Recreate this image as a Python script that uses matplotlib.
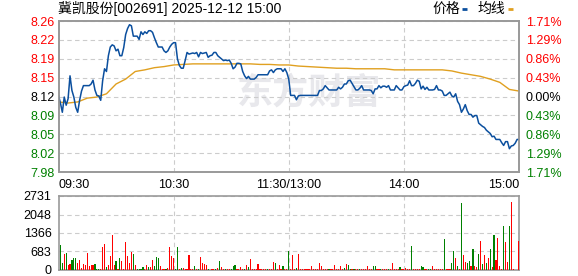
import matplotlib
matplotlib.use('Agg')
import matplotlib.pyplot as plt
import matplotlib.transforms as mtrans
from matplotlib.lines import Line2D
import numpy as np

plt.rcParams['font.family'] = ['Liberation Sans', 'Noto Sans CJK SC', 'DejaVu Sans']

# ---------------- data ----------------
title = '冀凯股份[002691] 2025-12-12 15:00'
legend_labels = ['价格', '均线']
watermark = '东方财富'
prev_close = 8.12
pct_range = 0.0171
price_tick_labels = ['7.98', '8.02', '8.05', '8.09', '8.12', '8.15', '8.19', '8.22', '8.26']
pct_tick_labels = ['1.71%', '1.29%', '0.86%', '0.43%', '0.00%', '0.43%', '0.86%', '1.29%', '1.71%']
vol_ticks = [0, 683, 1366, 2048, 2731]
time_pos = [0, 60, 120, 180, 240]
time_labels = ['09:30', '10:30', '11:30/13:00', '14:00', '15:00']

# one value per trading minute, 09:30 .. 15:00 (241 points)
price = [
    8.122, 8.108, 8.091, 8.119, 8.104, 8.116, 8.158, 8.131, 8.119, 8.100,
    8.091, 8.113, 8.130, 8.140, 8.140, 8.140, 8.140, 8.143, 8.150, 8.132,
    8.122, 8.121, 8.113, 8.149, 8.171, 8.166, 8.195, 8.211, 8.215, 8.213,
    8.204, 8.207, 8.195, 8.195, 8.210, 8.234, 8.245, 8.252, 8.250, 8.231,
    8.231, 8.231, 8.225, 8.239, 8.234, 8.239, 8.236, 8.241, 8.241, 8.238,
    8.228, 8.219, 8.211, 8.211, 8.211, 8.204, 8.201, 8.204, 8.211, 8.216,
    8.219, 8.219, 8.189, 8.177, 8.172, 8.172, 8.186, 8.201, 8.198, 8.199,
    8.200, 8.199, 8.201, 8.193, 8.201, 8.199, 8.200, 8.201, 8.192, 8.195,
    8.196, 8.201, 8.201, 8.195, 8.192, 8.189, 8.186, 8.187, 8.186, 8.187,
    8.181, 8.171, 8.174, 8.181, 8.181, 8.180, 8.166, 8.158, 8.153, 8.157,
    8.152, 8.152, 8.152, 8.155, 8.160, 8.160, 8.160, 8.160, 8.160, 8.160,
    8.167, 8.169, 8.164, 8.169, 8.171, 8.171, 8.171, 8.166, 8.171, 8.164,
    8.152, 8.122, 8.122, 8.122, 8.114, 8.121, 8.122, 8.122, 8.122, 8.122,
    8.122, 8.122, 8.122, 8.122, 8.122, 8.122, 8.131, 8.131, 8.134, 8.140,
    8.136, 8.132, 8.132, 8.132, 8.132, 8.132, 8.137, 8.134, 8.137, 8.143,
    8.143, 8.149, 8.150, 8.144, 8.138, 8.132, 8.132, 8.135, 8.140, 8.132,
    8.132, 8.132, 8.132, 8.131, 8.125, 8.134, 8.134, 8.140, 8.136, 8.139,
    8.139, 8.137, 8.140, 8.132, 8.132, 8.132, 8.140, 8.136, 8.132, 8.132,
    8.138, 8.140, 8.141, 8.149, 8.140, 8.140, 8.144, 8.150, 8.148, 8.134,
    8.139, 8.133, 8.137, 8.132, 8.132, 8.132, 8.133, 8.140, 8.132, 8.132,
    8.130, 8.122, 8.122, 8.125, 8.128, 8.121, 8.119, 8.125, 8.111, 8.105,
    8.091, 8.097, 8.105, 8.094, 8.087, 8.087, 8.082, 8.085, 8.085, 8.071,
    8.068, 8.065, 8.063, 8.058, 8.055, 8.052, 8.046, 8.047, 8.041, 8.041,
    8.041, 8.035, 8.030, 8.037, 8.037, 8.024, 8.029, 8.030, 8.034, 8.041,
    8.041,
]

# average-price line sampled every 5 minutes
avg_minutes = list(range(0, 241, 5))
avg_price = [
    8.110, 8.108, 8.110, 8.117, 8.119, 8.125, 8.143, 8.152, 8.166, 8.169,
    8.173, 8.175, 8.178, 8.179, 8.180, 8.180, 8.180, 8.180, 8.180, 8.180,
    8.180, 8.179, 8.179, 8.178, 8.178, 8.176, 8.175, 8.174, 8.173, 8.172,
    8.172, 8.171, 8.171, 8.171, 8.171, 8.169, 8.169, 8.169, 8.169, 8.169,
    8.169, 8.167, 8.163, 8.160, 8.157, 8.152, 8.146, 8.133, 8.130,
]

# volume for minutes 1..240
volume = [
    935, 270, 603, 640, 197, 234, 381, 455, 455, 270,
    381, 86, 234, 197, 640, 160, 197, 197, 234, 49,
    49, 49, 861, 972, 123, 197, 529, 1304, 197, 345,
    49, 455, 345, 49, 1046, 529, 270, 677, 603, 197,
    49, 49, 49, 123, 49, 197, 123, 123, 381, 160,
    492, 455, 160, 49, 49, 49, 86, 861, 529, 455,
    49, 861, 49, 86, 86, 49, 49, 566, 49, 49,
    160, 49, 49, 492, 270, 234, 197, 49, 12, 49,
    49, 49, 86, 345, 123, 49, 49, 49, 49, 49,
    160, 197, 49, 49, 123, 49, 49, 197, 123, 418,
    49, 49, 49, 234, 49, 49, 49, 49, 49, 49,
    49, 307, 270, 49, 197, 49, 160, 49, 49, 713,
    49, 566, 49, 86, 603, 49, 49, 49, 49, 49,
    49, 160, 49, 49, 49, 270, 160, 49, 49, 49,
    49, 49, 49, 197, 49, 49, 160, 49, 86, 234,
    197, 49, 49, 49, 49, 49, 49, 49, 49, 49,
    160, 49, 49, 160, 160, 49, 49, 49, 49, 49,
    49, 49, 49, 270, 49, 49, 49, 123, 49, 49,
    86, 49, 49, 900, 49, 49, 49, 49, 160, 123,
    49, 49, 49, 49, 160, 49, 49, 49, 49, 49,
    1156, 49, 49, 49, 270, 713, 455, 160, 49, 2485,
    553, 295, 258, 332, 148, 775, 148, 111, 590, 1070,
    221, 553, 258, 443, 775, 111, 1291, 369, 1181, 148,
    49, 1624, 1033, 295, 1624, 2509, 49, 0, 0, 1082,
]
# u = price up / flat (red bar), d = price down (green bar), minutes 1..240
vol_dir = "".join([
    "dduduudddu", "uuuuuuuudd", "duuuduuuud", "uduuuuuudu",
    "dddduuduud", "dduuuduuuu", "dduduuuuuu", "duduuuuduu",
    "ududuuduud", "dduuuududu", "uuuuuuuudu", "uuduuuduud",
    "uuuduuuuuu", "uuuuuuuuuu", "duuuuuuudu", "dduduuduuu",
    "uuudduuduu", "uduuuuuduu", "uuuduuuudd", "uudduuuuuu",
    "duuuddudud", "uudduduudu", "dudududuuu", "uduuduuuuu",
])

# ---------------- styling ----------------
W, H = 578, 276
BLUE = '#0b4f9e'
ORANGE = '#e0a020'
RED = '#ff0000'
GREEN = '#008000'
GRID = '#cccccc'
FRAME = '#999999'
dash = (0, (4, 3))

fig = plt.figure(figsize=(W / 100, H / 100), dpi=100)

def box(l, t, r, b):
    return [l / W, 1 - b / H, (r - l) / W, (b - t) / H]

ax = fig.add_axes(box(58.5, 21, 519, 172))
axv = fig.add_axes(box(58.5, 196, 519, 270))

minutes = np.arange(len(price))
lo = prev_close * (1 - pct_range)
hi = prev_close * (1 + pct_range)
ytick_vals = [prev_close * (1 + pct_range * k / 4) for k in range(-4, 5)]

# watermark
ax.text(0.545, 0.52, watermark, transform=ax.transAxes, fontsize=26, fontweight='bold',
        color='#e8e8ec', ha='center', va='center', family=['Noto Sans CJK SC'], zorder=0)

ax.plot(avg_minutes, avg_price, color=ORANGE, lw=1.0, zorder=3)
ax.plot(minutes, price, color=BLUE, lw=1.1, zorder=4)
ax.set_xlim(0, 240)
ax.set_ylim(lo, hi)
ax.set_yticks(ytick_vals)
ax.set_yticklabels(price_tick_labels, fontsize=9)
ax.set_xticks(time_pos[1:-1])
ax.set_xticklabels([])
ax.grid(True, ls=dash, color=GRID, lw=0.8, zorder=1)
ax.tick_params(length=0, pad=3)
for i, t in enumerate(ax.get_yticklabels()):
    t.set_color(GREEN if i < 4 else ('black' if i == 4 else RED))

axr = ax.twinx()
axr.set_ylim(lo, hi)
axr.set_yticks(ytick_vals)
axr.set_yticklabels(pct_tick_labels, fontsize=9)
axr.tick_params(length=0, pad=5)
for i, t in enumerate(axr.get_yticklabels()):
    t.set_color(GREEN if i < 4 else ('black' if i == 4 else RED))

trans = mtrans.blended_transform_factory(ax.transData, ax.transAxes)
aligns = ['left', 'center', 'center', 'center', 'right']
for p, lab, ha in zip(time_pos, time_labels, aligns):
    ax.text(p, -0.045, lab, transform=trans, ha=ha, va='top', fontsize=9, color='black')

# volume
vm = np.arange(1, len(volume) + 1)
vcol = [RED if c == 'u' else GREEN for c in vol_dir[:len(volume)]]
axv.bar(vm, volume, width=0.6, color=vcol, zorder=3, linewidth=0, antialiased=False)
axv.set_xlim(0, 240)
axv.set_ylim(0, vol_ticks[-1])
axv.set_yticks(vol_ticks)
axv.set_yticklabels([str(v) for v in vol_ticks], fontsize=9)
axv.set_xticks(time_pos[1:-1])
axv.set_xticklabels([])
axv.grid(True, ls=dash, color=GRID, lw=0.8, zorder=1)
axv.tick_params(length=0, pad=5)

for a in (ax, axr, axv):
    for s in a.spines.values():
        s.set_color(FRAME)
        s.set_linewidth(1.2)

# title and legend
fig.text(58 / W, 1 - 9 / H, title, ha='left', va='center', fontsize=10, color='black')
fig.text(432 / W, 1 - 9 / H, legend_labels[0], ha='left', va='center', fontsize=10, color='black')
fig.text(477 / W, 1 - 9 / H, legend_labels[1], ha='left', va='center', fontsize=10, color='black')
fig.add_artist(Line2D([462 / W, 467 / W], [1 - 8.5 / H] * 2, color=BLUE, lw=2.0, solid_capstyle='butt'))
fig.add_artist(Line2D([508 / W, 513 / W], [1 - 8.5 / H] * 2, color=ORANGE, lw=2.0, solid_capstyle='butt'))

fig.savefig('out.png', dpi=100)
